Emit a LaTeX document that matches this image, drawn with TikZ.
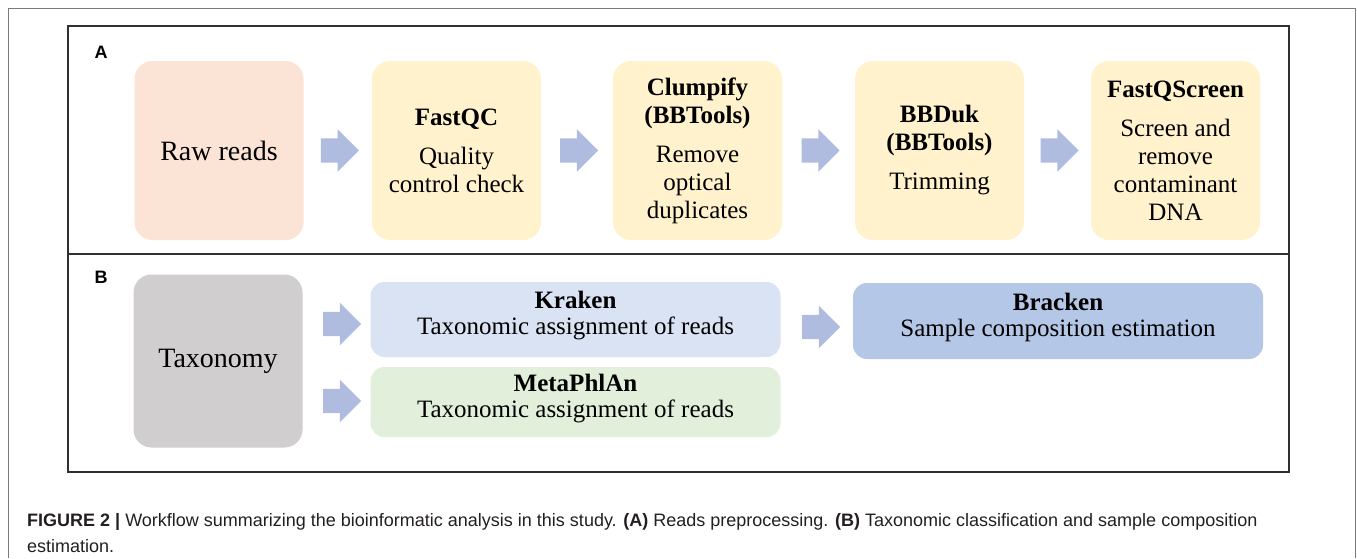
\documentclass[tikz,border=0pt]{standalone}
\usepackage{fontspec}
\setmainfont{Liberation Serif}
\newfontfamily\capfont{Liberation Sans}
\newfontfamily\labfont{Liberation Sans}
\usepackage{xcolor}
\usetikzlibrary{calc,shapes.arrows}
\definecolor{framegray}{HTML}{7A7A7A}
\definecolor{panelline}{HTML}{303030}
\definecolor{rawfill}{HTML}{FBE4D6}
\definecolor{qcfill}{HTML}{FFF2CC}
\definecolor{taxfill}{HTML}{D0CECE}
\definecolor{krakenfill}{HTML}{DAE3F3}
\definecolor{metafill}{HTML}{E2EFDA}
\definecolor{brackenfill}{HTML}{B4C7E7}
\definecolor{arrowblue}{HTML}{AFBCE0}
\definecolor{captext}{HTML}{231F20}
\newcommand{\boxtxt}{\fontsize{25}{28}\selectfont}
\newcommand{\widetxt}{\fontsize{25}{26}\selectfont}
\newcommand{\bigtxt}{\fontsize{28}{32}\selectfont}
\tikzset{
  outer/.style={draw=framegray, line width=1pt},
  panel/.style={draw=panelline, line width=1.8pt},
  stepbox/.style={rounded corners=18pt, minimum width=169pt, minimum height=179pt, inner sep=0pt, align=center, font=\boxtxt},
  widebox/.style={rounded corners=14pt, minimum width=410pt, inner sep=0pt, text depth=13pt, align=center, font=\widetxt},
  blockarrow/.style={single arrow, fill=arrowblue, draw=none, inner xsep=0pt, inner ysep=12pt, minimum height=38pt, single arrow head extend=9pt, single arrow head indent=0pt, xshift=-4pt},
  tag/.style={font=\labfont\bfseries\fontsize{18}{20}\selectfont},
  captxt/.style={text=captext, align=left, inner sep=0pt, font=\capfont\fontsize{18}{26}\selectfont},
}
\begin{document}
\begin{tikzpicture}[x=1pt, y=-1pt]
  \useasboundingbox (0,0) rectangle (1357,558);
  % frames
  \draw[outer] (8,558) -- (8,8) -- (1355,8) -- (1355,558);
  \draw[panel] (68,26) rectangle (1289,472);
  \draw[panel] (68,254) -- (1289,254);
  \node[tag] (labA) at (101,52) {A};
  \node[tag] (labB) at (101,277) {B};
  % panel A
  \node[stepbox, fill=rawfill, font=\bigtxt] (raw) at (219,150.5) {Raw reads};
  \node[stepbox, fill=qcfill] (fastqc) at (456.5,150.5) {\textbf{FastQC}\\[11pt]Quality\\control check};
  \node[stepbox, fill=qcfill] (clumpify) at (697.5,150.5) {\textbf{Clumpify}\\\textbf{(BBTools)}\\[11pt]Remove\\optical\\duplicates};
  \node[stepbox, fill=qcfill] (bbduk) at (939.5,150.5) {\textbf{BBDuk}\\\textbf{(BBTools)}\\[11pt]Trimming};
  \node[stepbox, fill=qcfill] (fastqscreen) at (1175.5,150.5) {\textbf{FastQScreen}\\[11pt]Screen and\\remove\\contaminant\\DNA};
  \node[blockarrow] (arrA1) at ($(raw.east)!0.5!(fastqc.west)$) {};
  \node[blockarrow] (arrA2) at ($(fastqc.east)!0.5!(clumpify.west)$) {};
  \node[blockarrow] (arrA3) at ($(clumpify.east)!0.5!(bbduk.west)$) {};
  \node[blockarrow] (arrA4) at ($(bbduk.east)!0.5!(fastqscreen.west)$) {};
  % panel B
  \node[stepbox, fill=taxfill, minimum height=173pt, font=\bigtxt] (taxonomy) at (218,361) {Taxonomy};
  \node[widebox, fill=krakenfill, minimum height=75pt] (kraken) at (575.5,319.5) {\textbf{Kraken}\\Taxonomic assignment of reads};
  \node[widebox, fill=metafill, minimum height=70pt] (metaphlan) at (575.5,402) {\textbf{MetaPhlAn}\\Taxonomic assignment of reads};
  \node[widebox, fill=brackenfill, minimum height=76pt] (bracken) at (1058,321) {\textbf{Bracken}\\Sample composition estimation};
  \node[blockarrow] (arrB1) at (340,324) {};
  \node[blockarrow] (arrB2) at (340,401) {};
  \node[blockarrow] (arrB3) at (819,327) {};
  % caption
  \node[captxt, anchor=north west] (caption) at (27,513) {\textbf{FIGURE 2 |} Workflow summarizing the bioinformatic analysis in this study. \textbf{(A)} Reads preprocessing. \textbf{(B)} Taxonomic classification and sample composition\\estimation.};
\end{tikzpicture}
\end{document}
